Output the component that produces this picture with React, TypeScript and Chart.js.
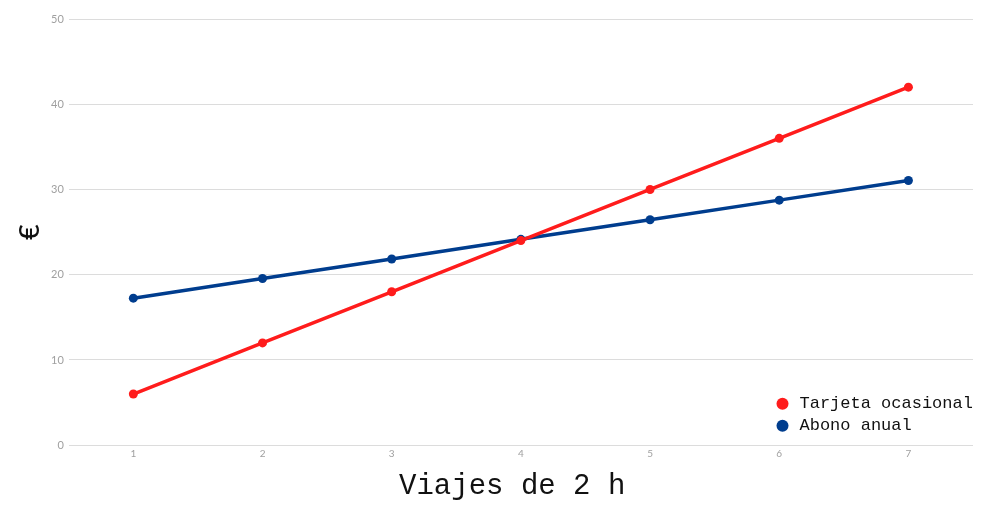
import React, { useEffect, useRef } from "react";
import { Chart, registerables } from "chart.js";

Chart.register(...registerables);

const categories = ["1", "2", "3", "4", "5", "6", "7"];
const tarjetaOcasional = [6, 12, 18, 24, 30, 36, 42];
const abonoAnual = [17.25, 19.55, 21.85, 24.15, 26.45, 28.75, 31.05];
const seriesNames = ["Tarjeta ocasional", "Abono anual"];
const xTitle = "Viajes de 2 h ";
const yTitle = "€";

const RED = "#ff1c1c";
const BLUE = "#003d8e";
const MONO = "'Liberation Mono', 'DejaVu Sans Mono', monospace";
const TICK_FONT = "Lato, 'Noto Sans', sans-serif";

const legendMover = {
  id: "legendMover",
  afterLayout(chart: any) {
    const lg = chart.legend;
    const ca = chart.chartArea;
    if (!lg || !ca) return;
    const w = lg.width;
    const h = lg.height;
    lg.left = ca.right - 204;
    lg.right = lg.left + w;
    lg.top = ca.bottom - 55;
    lg.bottom = lg.top + h;
  },
};

export default function App() {
  const ref = useRef<HTMLCanvasElement | null>(null);
  useEffect(() => {
    if (!ref.current) return;
    const chart = new Chart(ref.current, {
      type: "line",
      data: {
        labels: categories,
        datasets: [
          {
            label: seriesNames[0],
            data: tarjetaOcasional,
            borderColor: RED,
            backgroundColor: RED,
            borderWidth: 3.5,
            pointRadius: 4.5,
            pointHoverRadius: 4.5,
            pointBorderWidth: 0,
            tension: 0,
          },
          {
            label: seriesNames[1],
            data: abonoAnual,
            borderColor: BLUE,
            backgroundColor: BLUE,
            borderWidth: 3.5,
            pointRadius: 4.5,
            pointHoverRadius: 4.5,
            pointBorderWidth: 0,
            tension: 0,
          },
        ],
      },
      options: {
        animation: false,
        responsive: true,
        maintainAspectRatio: false,
        layout: { padding: { top: 19, right: 27, left: 17, bottom: 11 } },
        plugins: {
          tooltip: { enabled: false },
          legend: {
            position: "chartArea",
            align: "start",
            labels: {
              usePointStyle: true,
              pointStyle: "circle",
              boxWidth: 17,
              boxHeight: 8.5,
              padding: 5,
              color: "#111",
              font: { family: MONO, size: 17 },
            },
          },
        },
        scales: {
          x: {
            offset: true,
            grid: { display: false, drawTicks: false },
            border: { display: false },
            ticks: {
              color: "#a0a0a0",
              font: { family: TICK_FONT, size: 10 },
              padding: 3,
              maxRotation: 0,
            },
            title: {
              display: true,
              text: xTitle,
              color: "#111",
              font: { family: MONO, size: 29 },
              padding: { top: 6, bottom: 0 },
            },
          },
          y: {
            min: 0,
            max: 50,
            ticks: {
              stepSize: 10,
              color: "#a0a0a0",
              font: { family: TICK_FONT, size: 11 },
              padding: 5,
            },
            grid: { color: "#dcdcdc", lineWidth: 1, drawTicks: false },
            border: { display: false },
            title: {
              display: true,
              text: yTitle,
              color: "#111",
              font: { family: MONO, size: 29, lineHeight: 1 },
              padding: { top: 0, bottom: 0 },
            },
          },
        },
      },
      plugins: [legendMover],
    } as any);
    return () => chart.destroy();
  }, []);
  return (
    <div style={{ position: "fixed", left: 0, top: 0, width: 1000, height: 515, background: "#fff" }}>
      <canvas ref={ref} />
    </div>
  );
}
